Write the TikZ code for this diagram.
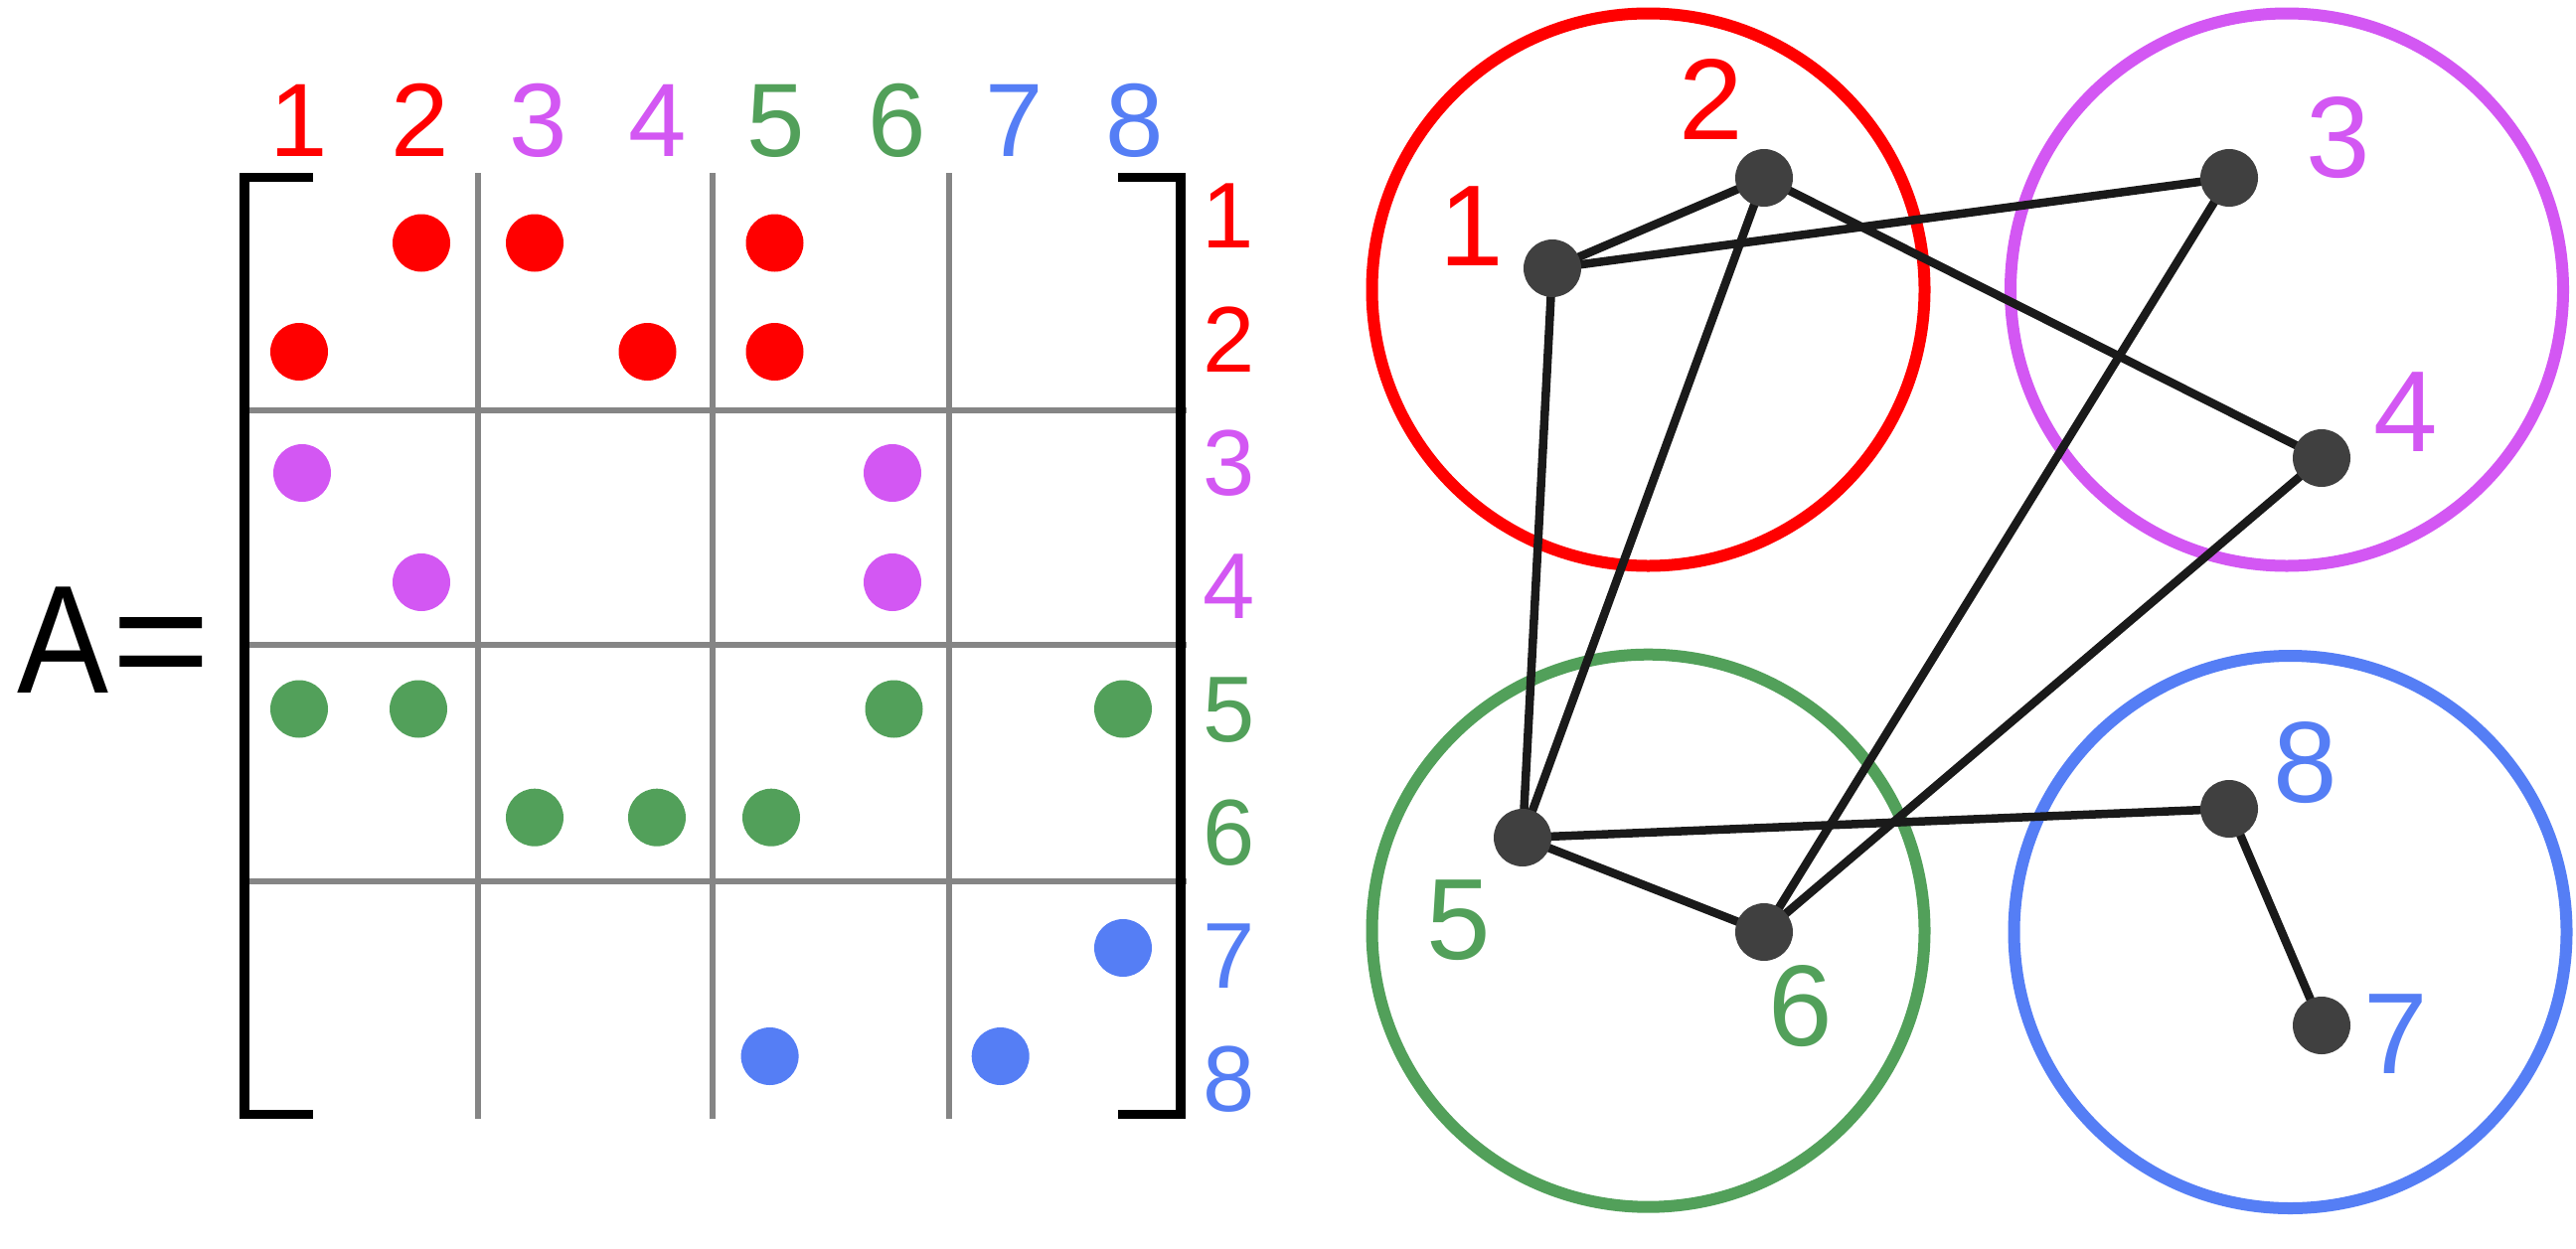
\documentclass[tikz,border=0pt]{standalone}
\usepackage{fontspec}
\setmainfont{Liberation Sans}
\usepackage{graphicx}
\pgfdeclarelayer{bg}
\pgfdeclarelayer{mid}
\pgfsetlayers{bg,mid,main}
\definecolor{cred}{RGB}{255,0,0}
\definecolor{cpurple}{RGB}{211,87,243}
\definecolor{cgreen}{RGB}{82,160,90}
\definecolor{cblue}{RGB}{85,126,245}
\definecolor{cgrid}{RGB}{133,133,133}
\definecolor{cnode}{RGB}{64,64,64}
\definecolor{cedge}{RGB}{26,26,26}
\begin{document}
\begin{tikzpicture}[x=1pt,y=-1pt,
  mdot/.style={circle,fill=#1,inner sep=0pt,minimum size=58pt},
  collab/.style={text=#1,font=\fontsize{105}{105}\selectfont,inner sep=0pt,anchor=base},
  rowlab/.style={text=#1,font=\fontsize{94}{94}\selectfont,inner sep=0pt,anchor=base},
  glab/.style={text=#1,font=\fontsize{116}{116}\selectfont,inner sep=0pt,anchor=base},
  bigtxt/.style={font=\fontsize{155}{155}\selectfont,inner sep=0pt,anchor=base},
  vtx/.style={circle,fill=cnode,inner sep=0pt,minimum size=58pt},
  link/.style={draw=cedge,line width=8.5pt},
  cluster/.style={circle,draw=#1,line width=12pt,minimum size=556pt,inner sep=0pt},
  brk/.style={draw=black,line width=9.5pt},
  gridline/.style={draw=cgrid,line width=5.5pt},
]
\useasboundingbox (0,0) rectangle (2592,1256);
\begin{pgfonlayer}{bg}
\fill[white] (0,0) rectangle (2592,1256);
\end{pgfonlayer}

% ---- A =
\node[bigtxt] (Aletter) at (64,697) {\scalebox{0.89}[1]{A}};
\node[bigtxt] (eqsign) at (162.5,697) {\scalebox{1.1}[1]{=}};

% ---- grid
\foreach \gx in {481,717,955} \draw[gridline] (\gx,174) -- (\gx,1126);
\foreach \gy in {413,649,887} \draw[gridline] (246,\gy) -- (1194,\gy);

% ---- brackets
\draw[brk] (315,178.5) -- (246,178.5) -- (246,1121.5) -- (315,1121.5);
\draw[brk] (1125,178.5) -- (1188,178.5) -- (1188,1121.5) -- (1125,1121.5);

% ---- matrix entries
\node[mdot=cred] (m12) at (424,244.5) {};
\node[mdot=cred] (m13) at (538,244.5) {};
\node[mdot=cred] (m15) at (779.5,244.5) {};
\node[mdot=cred] (m21) at (301,354) {};
\node[mdot=cred] (m24) at (651.5,354) {};
\node[mdot=cred] (m25) at (779.5,354) {};
\node[mdot=cpurple] (m31) at (304,476) {};
\node[mdot=cpurple] (m36) at (898,476) {};
\node[mdot=cpurple] (m42) at (424,586) {};
\node[mdot=cpurple] (m46) at (898,586) {};
\node[mdot=cgreen] (m51) at (301,713.5) {};
\node[mdot=cgreen] (m52) at (421,713.5) {};
\node[mdot=cgreen] (m56) at (899.5,713.5) {};
\node[mdot=cgreen] (m58) at (1130,713.5) {};
\node[mdot=cgreen] (m63) at (538,822.7) {};
\node[mdot=cgreen] (m64) at (661,822.7) {};
\node[mdot=cgreen] (m65) at (776,822.7) {};
\node[mdot=cblue] (m78) at (1130,954) {};
\node[mdot=cblue] (m85) at (774.6,1063) {};
\node[mdot=cblue] (m87) at (1006.7,1063) {};

% ---- column labels
\node[collab=cred] (c1) at (301,157) {1};
\node[collab=cred] (c2) at (422.5,157) {2};
\node[collab=cpurple] (c3) at (542,157) {3};
\node[collab=cpurple] (c4) at (662,157) {4};
\node[collab=cgreen] (c5) at (781,157) {5};
\node[collab=cgreen] (c6) at (903,157) {6};
\node[collab=cblue] (c7) at (1021,157) {7};
\node[collab=cblue] (c8) at (1142,157) {8};

% ---- row labels
\node[rowlab=cred] (r1) at (1236,249) {1};
\node[rowlab=cred] (r2) at (1237,374) {2};
\node[rowlab=cpurple] (r3) at (1237,498) {3};
\node[rowlab=cpurple] (r4) at (1237,622.5) {4};
\node[rowlab=cgreen] (r5) at (1237,746) {5};
\node[rowlab=cgreen] (r6) at (1237,870) {6};
\node[rowlab=cblue] (r7) at (1237,994) {7};
\node[rowlab=cblue] (r8) at (1237,1118) {8};

% ---- graph: clusters
\begin{pgfonlayer}{bg}
\node[cluster=cred] (g12) at (1658.5,291.5) {};
\node[cluster=cpurple] (g34) at (2301,291.5) {};
\node[cluster=cgreen] (g56) at (1658.5,936.7) {};
\node[cluster=cblue] (g78) at (2304.5,938) {};
\end{pgfonlayer}

% ---- graph: vertices
\node[vtx] (v1) at (1562,270) {};
\node[vtx] (v2) at (1775,179) {};
\node[vtx] (v3) at (2243,179) {};
\node[vtx] (v4) at (2336,461) {};
\node[vtx] (v5) at (1532,843) {};
\node[vtx] (v6) at (1775,938) {};
\node[vtx] (v7) at (2336,1032) {};
\node[vtx] (v8) at (2243,814) {};

% ---- graph: edges
\begin{pgfonlayer}{mid}
\draw[link] (v1.center) -- (v2.center);
\draw[link] (v1.center) -- (v3.center);
\draw[link] (v1.center) -- (v5.center);
\draw[link] (v2.center) -- (v4.center);
\draw[link] (v2.center) -- (v5.center);
\draw[link] (v3.center) -- (v6.center);
\draw[link] (v4.center) -- (v6.center);
\draw[link] (v5.center) -- (v6.center);
\draw[link] (v5.center) -- (v8.center);
\draw[link] (v8.center) -- (v7.center);
\end{pgfonlayer}

% ---- graph: labels
\node[glab=cred] (l1) at (1481,267) {1};
\node[glab=cred] (l2) at (1722,140) {2};
\node[glab=cpurple] (l3) at (2353,178) {3};
\node[glab=cpurple] (l4) at (2421,454) {4};
\node[glab=cgreen] (l5) at (1468,965) {5};
\node[glab=cgreen] (l6) at (1812,1052) {6};
\node[glab=cblue] (l8) at (2320,807) {8};
\node[glab=cblue] (l7) at (2411,1080) {7};
\end{tikzpicture}
\end{document}
